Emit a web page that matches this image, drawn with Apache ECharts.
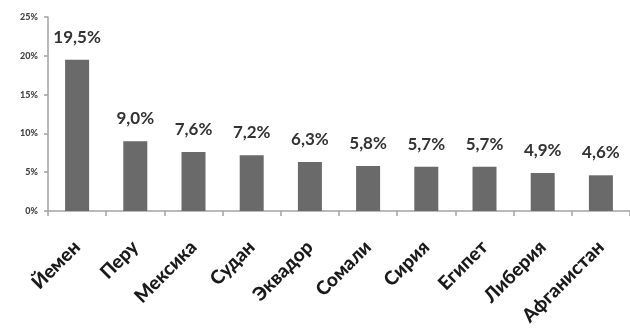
<!DOCTYPE html>
<html>
<head>
<meta charset="utf-8">
<style>
  html, body { margin: 0; padding: 0; background: #fff; }
  #chart { width: 630px; height: 331px; }
</style>
<script src="https://cdn.jsdelivr.net/npm/echarts@6/dist/echarts.min.js"></script>
</head>
<body>
<div id="chart"></div>
<script>
// Countries and their share, in percent
const countries = ['Йемен', 'Перу', 'Мексика', 'Судан', 'Эквадор', 'Сомали', 'Сирия', 'Египет', 'Либерия', 'Афганистан'];
const shares = [19.5, 9.0, 7.6, 7.2, 6.3, 5.8, 5.7, 5.7, 4.9, 4.6];
const yTicks = [0, 5, 10, 15, 20, 25];

const fmt = v => v.toFixed(1).replace('.', ',') + '%';

const chart = echarts.init(document.getElementById('chart'), null, { renderer: 'canvas' });
chart.setOption({
  animation: false,
  backgroundColor: '#ffffff',
  grid: { left: 48, right: -11, top: 17, bottom: 120, containLabel: false },
  xAxis: {
    type: 'category',
    data: countries,
    boundaryGap: true,
    axisLine: { lineStyle: { color: '#a3a3a3', width: 1.5 } },
    axisTick: { show: true, length: 5, inside: false, lineStyle: { color: '#a3a3a3', width: 1.5 } },
    axisLabel: {
      rotate: 45,
      margin: 33,
      interval: 0,
      fontFamily: 'Lato',
      fontWeight: 900,
      fontSize: 19,
      color: '#1a1a1a'
    }
  },
  yAxis: {
    type: 'value',
    min: yTicks[0],
    max: yTicks[yTicks.length - 1],
    interval: 5,
    splitLine: { show: false },
    axisLine: { show: true, lineStyle: { color: '#a3a3a3', width: 1.5 } },
    axisTick: { show: true, length: 4, lineStyle: { color: '#a3a3a3', width: 1.5 } },
    axisLabel: {
      margin: 10,
      fontFamily: 'Lato',
      fontWeight: 900,
      fontSize: 9,
      color: '#444',
      formatter: v => v + '%'
    }
  },
  series: [{
    type: 'bar',
    data: shares,
    barWidth: 24,
    itemStyle: { color: '#6a6a6a' },
    label: {
      show: true,
      position: 'top',
      distance: 14,
      fontFamily: 'Lato',
      fontWeight: 'bold',
      fontSize: 17,
      color: '#333',
      formatter: p => fmt(p.value)
    }
  }]
});
</script>
</body>
</html>
